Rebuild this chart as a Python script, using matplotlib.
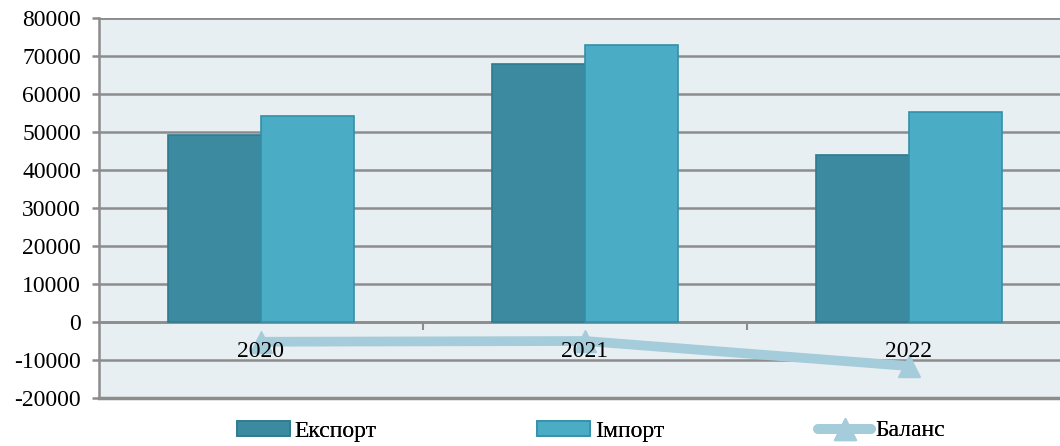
import numpy as np
import matplotlib.pyplot as plt
from matplotlib.ticker import FixedLocator

years = ['2020', '2021', '2022']
export_vals = [49200, 67900, 43900]
import_vals = [54200, 72900, 55300]
balance_vals = [-5200, -5000, -11600]
y_ticks = [-20000, -10000, 0, 10000, 20000, 30000, 40000, 50000, 60000, 70000, 80000]

plt.rcParams['font.family'] = ['Liberation Serif', 'DejaVu Serif']
FS = 17

fig = plt.figure(figsize=(10.6, 4.46), dpi=100)
# plot area runs a little past the right edge of the picture, as in the original
ax = fig.add_axes([99 / 1060, 1 - 398 / 446, (1071 - 99) / 1060, (398 - 18) / 446])
ax.set_facecolor('#E8EFF3')

x = np.arange(len(years))
w = 0.288
b1 = ax.bar(x - w / 2, export_vals, w, color='#3B8AA0', edgecolor='#2E7A90', linewidth=1.2,
            label='Експорт', zorder=3)
b2 = ax.bar(x + w / 2, import_vals, w, color='#4BACC6', edgecolor='#358FA8', linewidth=1.2,
            label='Імпорт', zorder=3)
ln, = ax.plot(x, balance_vals, color='#A5CCDA', linewidth=7, marker='^', markersize=16,
              label='Баланс', zorder=4, solid_capstyle='round')

ax.set_xlim(-0.5, 2.5)
ax.set_ylim(-20000, 80000)
ax.set_yticks(y_ticks)
ax.set_yticklabels([str(t) for t in y_ticks], fontsize=FS)
ax.grid(axis='y', color='#8C8C8C', linewidth=1.8, zorder=1)
ax.tick_params(axis='y', length=5, width=1.8, color='#8C8C8C', pad=8)

# category axis sits on the zero line
ax.spines['bottom'].set_position(('data', 0))
ax.spines['bottom'].set_color('#8C8C8C')
ax.spines['bottom'].set_linewidth(1.8)
ax.xaxis.set_major_locator(FixedLocator([0.5, 1.5]))
ax.tick_params(axis='x', which='major', length=6, width=1.5, color='#8C8C8C', labelbottom=False)
for xi, yr in zip(x, years):
    ax.text(xi, -7700, yr, ha='center', va='center', fontsize=FS, zorder=6)

ax.spines['left'].set_color('#8C8C8C')
ax.spines['left'].set_linewidth(1.8)
ax.spines['top'].set_visible(False)
ax.spines['right'].set_visible(False)
ax.axhline(-20000, color='#8C8C8C', linewidth=2.5, zorder=2, clip_on=False)
ax.axhline(80000, color='#8C8C8C', linewidth=1.8, zorder=2)

# legend entries spread along the bottom
ly = 1 - 431 / 446
for h, lx in zip([b1, b2, ln], [237, 537, 818]):
    lg = fig.legend(handles=[h], loc='center left', bbox_to_anchor=(lx / 1060, ly),
                    frameon=False, fontsize=FS, handlelength=2.25, handleheight=0.6,
                    handletextpad=0.2, borderpad=0, borderaxespad=0)
    fig.add_artist(lg)

fig.savefig('out.png', dpi=100)
